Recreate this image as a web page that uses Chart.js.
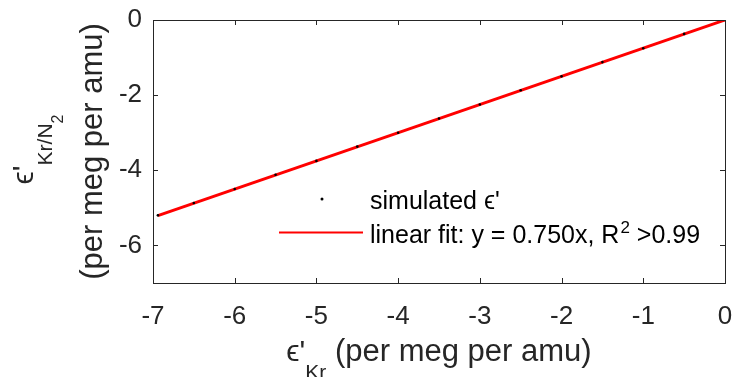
<!DOCTYPE html>
<html>
<head>
  <meta charset="UTF-8" />
  <title>Kr/N2 vs Kr</title>
  <script src="https://cdn.jsdelivr.net/npm/chart.js"></script>
  <style>
    body { margin: 0; background: #fff; }
    canvas { display: block; }
  </style>
</head>
<body>
  <canvas id="epsChart" width="734" height="377"></canvas>

  <script>
    // simulated points (they sit under the red fit)
    const simX = [-6.94, -6.5, -6.0, -5.5, -5.0, -4.5, -4.0, -3.5, -3.0, -2.5, -2.0, -1.5, -1.0, -0.5, 0];
    const simY = [-5.20, -4.87, -4.50, -4.12, -3.75, -3.37, -3.00, -2.62, -2.25, -1.87, -1.50, -1.12, -0.75, -0.37, 0];
    // linear fit end points
    const fitX = [-6.94, 0];
    const fitY = [-5.205, 0];
    const xTicks = [-7, -6, -5, -4, -3, -2, -1, 0];
    const yTicks = [-6, -4, -2, 0];

    const axisColor = '#262626';
    const fontFamily = '"Liberation Sans", Arial, sans-serif';

    // draws a run of text pieces (main / sub) centred on cx, baseline at by
    function drawRich(ctx, parts, cx, by) {
      let total = 0;
      parts.forEach(p => {
        ctx.font = p.size + 'px ' + fontFamily;
        p.w = ctx.measureText(p.text).width;
        total += p.w;
      });
      let x = cx - total / 2;
      ctx.textAlign = 'left';
      ctx.textBaseline = 'alphabetic';
      parts.forEach(p => {
        ctx.font = p.size + 'px ' + fontFamily;
        ctx.fillText(p.text, x, by + (p.dy || 0));
        x += p.w;
      });
    }

    const decorPlugin = {
      id: 'decor',
      afterDraw(chart) {
        const ctx = chart.ctx;
        const a = chart.chartArea;
        const xs = chart.scales.x, ys = chart.scales.y;
        ctx.save();
        ctx.strokeStyle = axisColor;
        ctx.lineWidth = 1;
        // box
        ctx.strokeRect(Math.round(a.left) + 0.5, Math.round(a.top) + 0.5,
          Math.round(a.right - a.left), Math.round(a.bottom - a.top));
        // inward ticks, all four sides
        const tl = 5;
        ctx.beginPath();
        xTicks.forEach(v => {
          const px = Math.round(xs.getPixelForValue(v)) + 0.5;
          ctx.moveTo(px, a.bottom); ctx.lineTo(px, a.bottom - tl);
          ctx.moveTo(px, a.top); ctx.lineTo(px, a.top + tl);
        });
        yTicks.forEach(v => {
          const py = Math.round(ys.getPixelForValue(v)) + 0.5;
          ctx.moveTo(a.left, py); ctx.lineTo(a.left + tl, py);
          ctx.moveTo(a.right, py); ctx.lineTo(a.right - tl, py);
        });
        ctx.stroke();

        ctx.fillStyle = axisColor;
        const cx = (a.left + a.right) / 2;
        const cy = (a.top + a.bottom) / 2;

        // x title
        drawRich(ctx, [
          { text: 'ϵ\'', size: 30 },
          { text: 'Kr', size: 21, dy: 18 },
          { text: ' (per meg per amu)', size: 31 }
        ], cx, 361);

        // y title, two rotated lines
        ctx.save();
        ctx.translate(0, cy);
        ctx.rotate(-Math.PI / 2);
        drawRich(ctx, [
          { text: 'ϵ\'', size: 30 },
          { text: 'Kr/N', size: 21, dy: 19 },
          { text: '2', size: 16, dy: 30 }
        ], 2, 33);
        drawRich(ctx, [{ text: '(per meg per amu)', size: 31 }], 0, 102);
        ctx.restore();

        // legend
        const lx = 370;
        ctx.fillStyle = '#000';
        ctx.beginPath();
        ctx.arc(322, 199, 1.5, 0, Math.PI * 2);
        ctx.fill();
        ctx.strokeStyle = '#ff0000';
        ctx.lineWidth = 2;
        ctx.beginPath();
        ctx.moveTo(279, 232.5); ctx.lineTo(363, 232.5);
        ctx.stroke();
        ctx.fillStyle = '#000';
        ctx.textAlign = 'left';
        ctx.textBaseline = 'alphabetic';
        ctx.font = '25px ' + fontFamily;
        ctx.fillText('simulated ϵ\'', lx, 209);
        let t = 'linear fit: y = 0.750x, R';
        ctx.fillText(t, lx, 243);
        let w = ctx.measureText(t).width;
        ctx.font = '17px ' + fontFamily;
        ctx.fillText('2', lx + w + 1, 233);
        w += ctx.measureText('2').width + 1;
        ctx.font = '25px ' + fontFamily;
        ctx.fillText(' >0.99', lx + w, 243);
        ctx.restore();
      }
    };

    const simPoints = simX.map((x, i) => ({ x: x, y: simY[i] }));
    const fitPoints = fitX.map((x, i) => ({ x: x, y: fitY[i] }));

    const ctx = document.getElementById('epsChart').getContext('2d');
    const epsChart = new Chart(ctx, {
      type: 'scatter',
      data: {
        datasets: [
          {
            label: "simulated ϵ'",
            data: simPoints,
            backgroundColor: '#000',
            borderColor: '#000',
            borderWidth: 0,
            pointRadius: 1.3,
            showLine: false
          },
          {
            label: 'linear fit: y = 0.750x, R2 >0.99',
            data: fitPoints,
            borderColor: '#ff0000',
            borderWidth: 3,
            pointRadius: 0,
            showLine: true
          }
        ]
      },
      options: {
        responsive: false,
        devicePixelRatio: 1,
        animation: false,
        layout: { padding: { left: 0, top: 20, right: 9, bottom: 0 } },
        plugins: {
          legend: { display: false },
          tooltip: { enabled: false }
        },
        scales: {
          x: {
            type: 'linear',
            min: -7,
            max: 0,
            afterBuildTicks: s => { s.ticks = xTicks.map(v => ({ value: v })); },
            afterFit: s => { s.height = 94; s.paddingLeft = 0; s.paddingRight = 0; },
            grid: { display: false, drawTicks: false },
            border: { display: false },
            ticks: {
              color: axisColor,
              font: { family: fontFamily, size: 26 },
              padding: 18,
              maxRotation: 0
            }
          },
          y: {
            type: 'linear',
            min: -7,
            max: 0,
            afterBuildTicks: s => { s.ticks = yTicks.map(v => ({ value: v })); },
            afterFit: s => { s.width = 153; s.paddingTop = 0; s.paddingBottom = 0; },
            grid: { display: false, drawTicks: false },
            border: { display: false },
            ticks: {
              color: axisColor,
              font: { family: fontFamily, size: 26 },
              padding: 11
            }
          }
        }
      },
      plugins: [decorPlugin]
    });
  </script>
</body>
</html>
